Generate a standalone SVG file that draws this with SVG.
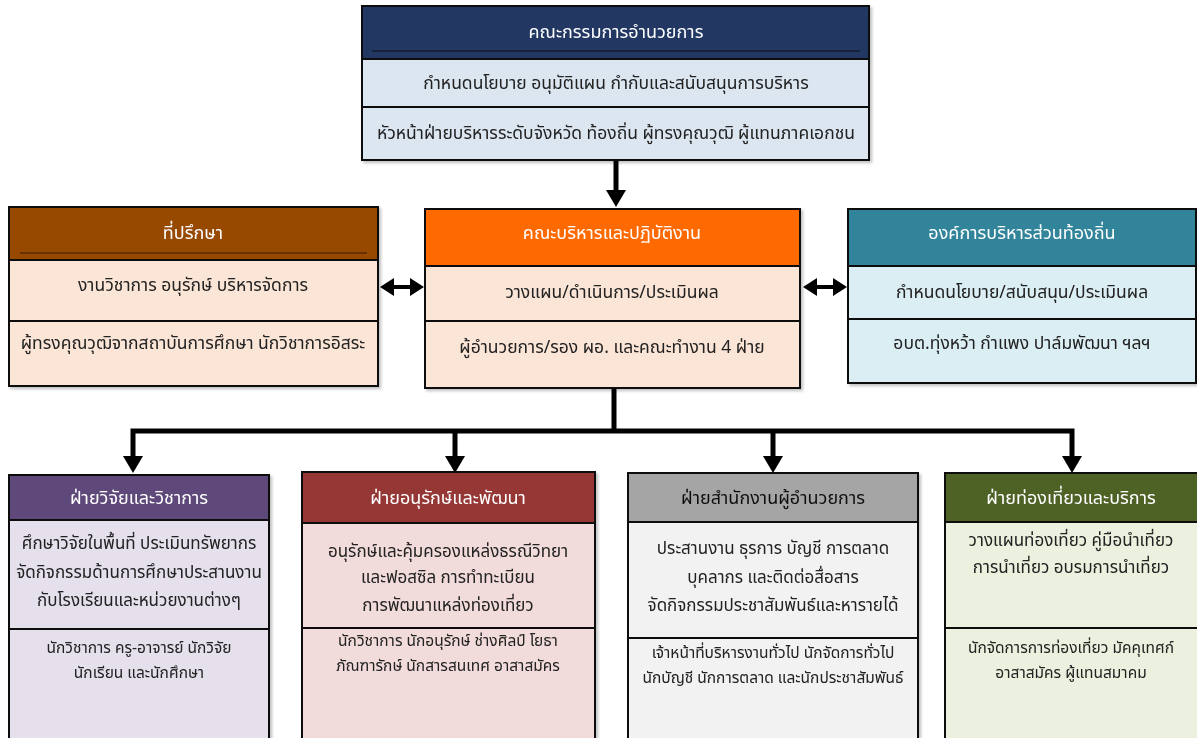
<svg xmlns="http://www.w3.org/2000/svg" width="1197" height="738" viewBox="0 0 1197 738">
<style>
.t{font-family:"Noto Sans Thai","Tahoma","Leelawadee UI","Noto Sans",sans-serif;text-anchor:middle;fill:#222}
.h{font-size:18px;fill:#fff}
.r{font-size:17.5px}
.m{font-size:17px}
.s{font-size:15.5px}
.b{stroke:#111;stroke-width:2}
.c{stroke:#000;stroke-width:5;fill:none}
.hd{fill:#000}
</style>
<defs>
<filter id="sh" x="-5%" y="-5%" width="110%" height="110%"><feDropShadow dx="2" dy="2" stdDeviation="1.5" flood-color="#000" flood-opacity="0.25"/></filter>
<path id="down" d="M-10,0 L10,0 L0,17 Z"/>
<path id="dbl" d="M0,0 L14,-9 L14,-2 L30,-2 L30,-9 L44,0 L30,9 L30,2 L14,2 L14,9 Z"/>
</defs>
<rect width="1197" height="738" fill="#fff"/>

<g id="connectors">
<line class="c" x1="616" y1="160" x2="616" y2="192"/>
<use href="#down" class="hd" x="616" y="190"/>
<use href="#dbl" class="hd" x="380" y="287"/>
<use href="#dbl" class="hd" x="803" y="287"/>
<line class="c" x1="614" y1="388" x2="614" y2="431"/>
<polyline class="c" points="133,458 133,431 1072,431 1072,458"/>
<line class="c" x1="455" y1="431" x2="455" y2="458"/>
<line class="c" x1="773" y1="431" x2="773" y2="458"/>
<use href="#down" class="hd" x="133" y="456"/>
<use href="#down" class="hd" x="455" y="456"/>
<use href="#down" class="hd" x="773" y="456"/>
<use href="#down" class="hd" x="1072" y="456"/>
</g>

<g id="board" filter="url(#sh)">
<rect class="b" x="362" y="6" width="507" height="53" fill="#203864"/>
<line x1="372" y1="51" x2="860" y2="51" stroke="#111" stroke-width="1"/>
<rect class="b" x="362" y="59" width="507" height="48" fill="#DCE6F1"/>
<rect class="b" x="362" y="107" width="507" height="53" fill="#DCE6F1"/>
<text class="t h" x="616" y="38">คณะกรรมการอำนวยการ</text>
<text class="t r" x="616" y="89">กำหนดนโยบาย อนุมัติแผน กำกับและสนับสนุนการบริหาร</text>
<text class="t r" x="616" y="139">หัวหน้าฝ่ายบริหารระดับจังหวัด ท้องถิ่น ผู้ทรงคุณวุฒิ ผู้แทนภาคเอกชน</text>
</g>

<g id="advisor" filter="url(#sh)">
<rect class="b" x="9" y="207" width="369" height="53" fill="#974806"/>
<line x1="20" y1="253" x2="367" y2="253" stroke="#3a1a00" stroke-width="1"/>
<rect class="b" x="9" y="260" width="369" height="61" fill="#FBE5D6"/>
<rect class="b" x="9" y="321" width="369" height="65" fill="#FBE5D6"/>
<text class="t h" x="193" y="239">ที่ปรึกษา</text>
<text class="t r" x="193" y="291">งานวิชาการ อนุรักษ์ บริหารจัดการ</text>
<text class="t r" x="193" y="349">ผู้ทรงคุณวุฒิจากสถาบันการศึกษา นักวิชาการอิสระ</text>
</g>

<g id="executive" filter="url(#sh)">
<rect class="b" x="425" y="209" width="375" height="57" fill="#FF6A00"/>
<rect class="b" x="425" y="266" width="375" height="55" fill="#FBE5D6"/>
<rect class="b" x="425" y="321" width="375" height="67" fill="#FBE5D6"/>
<text class="t h" x="612" y="239">คณะบริหารและปฏิบัติงาน</text>
<text class="t r" x="612" y="298">วางแผน/ดำเนินการ/ประเมินผล</text>
<text class="t r" x="612" y="353">ผู้อำนวยการ/รอง ผอ. และคณะทำงาน 4 ฝ่าย</text>
</g>

<g id="local" filter="url(#sh)">
<rect class="b" x="848" y="209" width="348" height="57" fill="#31849B"/>
<rect class="b" x="848" y="266" width="348" height="53" fill="#DAEEF3"/>
<rect class="b" x="848" y="319" width="348" height="64" fill="#DAEEF3"/>
<text class="t h" x="1022" y="239">องค์การบริหารส่วนท้องถิ่น</text>
<text class="t r" x="1022" y="298">กำหนดนโยบาย/สนับสนุน/ประเมินผล</text>
<text class="t r" x="1022" y="349">อบต.ทุ่งหว้า กำแพง ปาล์มพัฒนา ฯลฯ</text>
</g>

<g id="research" filter="url(#sh)">
<rect class="b" x="9" y="475" width="260" height="45" fill="#5F497A"/>
<rect class="b" x="9" y="520" width="260" height="109" fill="#E5E0EC"/>
<rect class="b" x="9" y="629" width="260" height="115" fill="#E5E0EC"/>
<text class="t h" x="139" y="504">ฝ่ายวิจัยและวิชาการ</text>
<text class="t m" x="139" y="549">ศึกษาวิจัยในพื้นที่ ประเมินทรัพยากร</text>
<text class="t m" x="139" y="578">จัดกิจกรรมด้านการศึกษาประสานงาน</text>
<text class="t m" x="139" y="606">กับโรงเรียนและหน่วยงานต่างๆ</text>
<text class="t s" x="139" y="653">นักวิชาการ ครู-อาจารย์ นักวิจัย</text>
<text class="t s" x="139" y="678">นักเรียน และนักศึกษา</text>
</g>

<g id="conservation" filter="url(#sh)">
<rect class="b" x="302" y="472" width="293" height="51" fill="#953735"/>
<rect class="b" x="302" y="523" width="293" height="105" fill="#F2DCDB"/>
<rect class="b" x="302" y="628" width="293" height="116" fill="#F2DCDB"/>
<text class="t h" x="448" y="504">ฝ่ายอนุรักษ์และพัฒนา</text>
<text class="t m" x="448" y="557">อนุรักษ์และคุ้มครองแหล่งธรณีวิทยา</text>
<text class="t m" x="448" y="583">และฟอสซิล การทำทะเบียน</text>
<text class="t m" x="448" y="611">การพัฒนาแหล่งท่องเที่ยว</text>
<text class="t s" x="448" y="646">นักวิชาการ นักอนุรักษ์ ช่างศิลป์ โยธา</text>
<text class="t s" x="448" y="671">ภัณฑารักษ์ นักสารสนเทศ อาสาสมัคร</text>
</g>

<g id="office" filter="url(#sh)">
<rect class="b" x="628" y="473" width="290" height="49" fill="#A5A5A5"/>
<rect class="b" x="628" y="522" width="290" height="116" fill="#F2F2F2"/>
<rect class="b" x="628" y="638" width="290" height="106" fill="#F2F2F2"/>
<text class="t h" x="773" y="504" style="fill:#111">ฝ่ายสำนักงานผู้อำนวยการ</text>
<text class="t m" x="773" y="554">ประสานงาน ธุรการ บัญชี การตลาด</text>
<text class="t m" x="773" y="583">บุคลากร และติดต่อสื่อสาร</text>
<text class="t m" x="773" y="611">จัดกิจกรรมประชาสัมพันธ์และหารายได้</text>
<text class="t s" x="773" y="658">เจ้าหน้าที่บริหารงานทั่วไป นักจัดการทั่วไป</text>
<text class="t s" x="773" y="683">นักบัญชี นักการตลาด และนักประชาสัมพันธ์</text>
</g>

<g id="tourism" filter="url(#sh)">
<rect class="b" x="945" y="473" width="255" height="49" fill="#4F6228"/>
<rect class="b" x="945" y="522" width="255" height="106" fill="#EBF1DE"/>
<rect class="b" x="945" y="628" width="255" height="116" fill="#EBF1DE"/>
<text class="t h" x="1071" y="504">ฝ่ายท่องเที่ยวและบริการ</text>
<text class="t m" x="1071" y="546">วางแผนท่องเที่ยว คู่มือนำเที่ยว</text>
<text class="t m" x="1071" y="573">การนำเที่ยว อบรมการนำเที่ยว</text>
<text class="t s" x="1071" y="653">นักจัดการการท่องเที่ยว มัคคุเทศก์</text>
<text class="t s" x="1071" y="678">อาสาสมัคร ผู้แทนสมาคม</text>
</g>
</svg>
